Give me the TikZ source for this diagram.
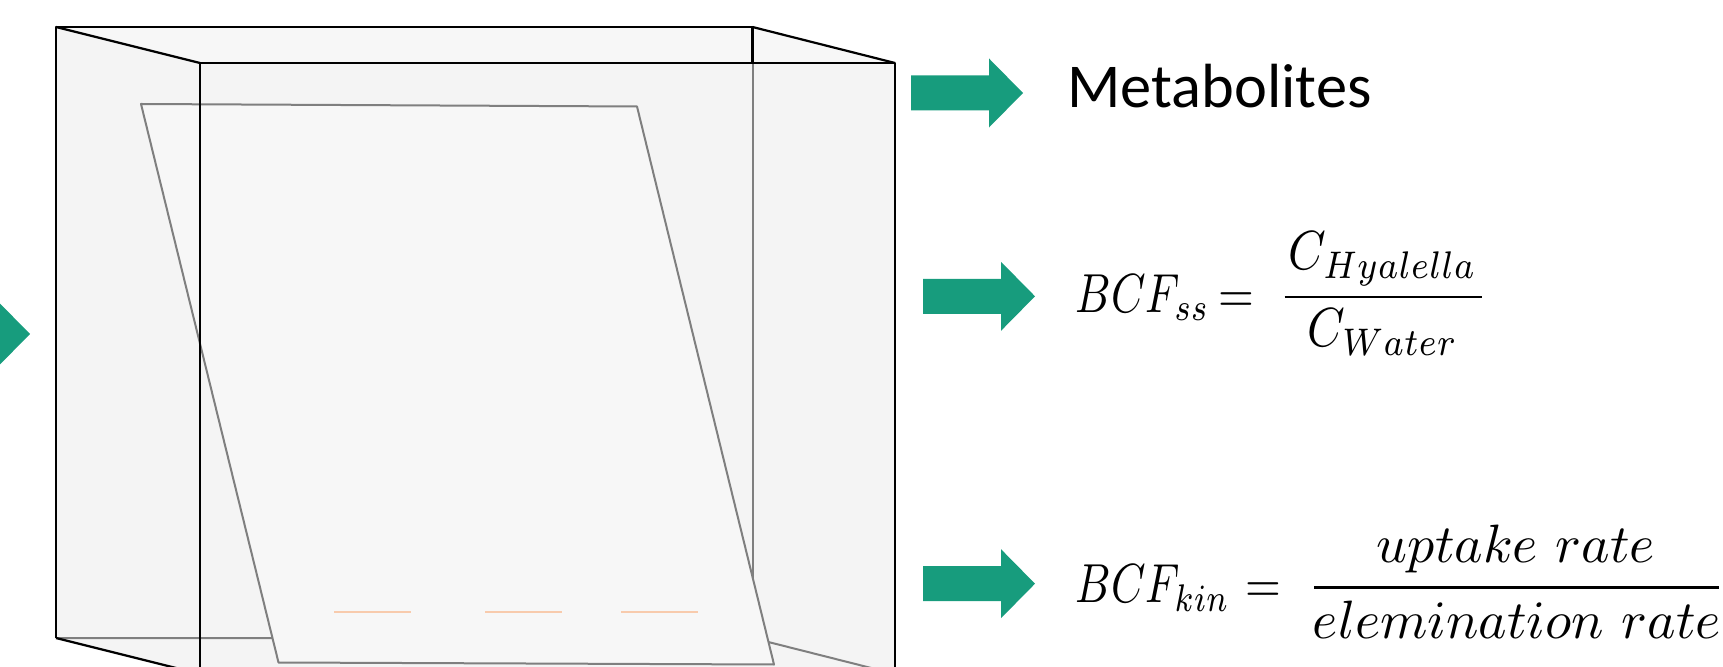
\documentclass[tikz,border=0pt]{standalone}
\usepackage{fontspec}
\newfontfamily\labelfont{Carlito}
\definecolor{arrowgreen}{RGB}{23,156,125}
\definecolor{boxfill}{RGB}{244,244,244}
\definecolor{topfill}{RGB}{247,247,247}
\definecolor{gelfill}{RGB}{247,247,247}
\definecolor{hiddenedge}{RGB}{127,127,127}
\definecolor{bandcolor}{RGB}{248,203,173}
\tikzset{
  edge/.style={draw=black, line width=1.1pt, line join=round},
  backedge/.style={draw=hiddenedge, line width=1pt},
  gelplate/.style={fill=gelfill, draw=hiddenedge, line width=1pt, line join=round},
  band/.style={draw=bandcolor, line width=1.4pt},
  formula/.style={inner sep=0pt, anchor=base},
  fracbar/.style={draw=black, line width=1.3pt},
  blockarrow/.pic={\fill[arrowgreen] (-112,-17.5) -- (-34,-17.5) -- (-34,-34.5) -- (0,0)
                   -- (-34,34.5) -- (-34,17.5) -- (-112,17.5) -- cycle;}
}
\begin{document}
\begin{tikzpicture}[x=0.5pt, y=-0.5pt]
\useasboundingbox (0,0) rectangle (1723,667);
\clip (0,0) rectangle (1723,667);

% corners of the glass tank
\coordinate (bTL) at (56,27);
\coordinate (bTR) at (752.5,27);
\coordinate (bBL) at (56,638);
\coordinate (bBR) at (752.5,638);
\coordinate (fTL) at (200,63);
\coordinate (fTR) at (895,63);
\coordinate (fBL) at (200,674);
\coordinate (fBR) at (895,674);
\coordinate (bRm) at (752.5,63);

% tank body and its lighter top face
\fill[boxfill] (bTL) -- (bTR) -- (fTR) -- (fBR) -- (fBL) -- (bBL) -- cycle;
\fill[topfill] (bTL) -- (bTR) -- (fTR) -- (fTL) -- cycle;

% edges seen through the glass
\draw[backedge] (bRm) -- (bBR);
\draw[backedge] (bBL) -- (bBR) -- (fBR);

% tilted TLC plate with the sample bands
\draw[gelplate] (141,104) -- (637,106.5) -- (774,664.5) -- (278.5,662.5) -- cycle;
\draw[band] (334,612) -- (411,612);
\draw[band] (485,612) -- (562,612);
\draw[band] (621,612) -- (698,612);

% outer edges of the tank
\draw[edge] (bBL) -- (bTL) -- (bTR) -- (bRm);
\draw[edge] (bTL) -- (fTL);
\draw[edge] (bTR) -- (fTR);
\draw[edge] (bBL) -- (fBL);
\draw[edge] (fTL) -- (fTR) -- (fBR) -- (fBL) -- cycle;

% block arrows
\pic at (30,334) {blockarrow};
\pic at (1023,93) {blockarrow};
\pic at (1035,296.3) {blockarrow};
\pic at (1035,583.7) {blockarrow};

% results
\node[inner sep=0pt, anchor=base west, font=\labelfont\fontsize{31.2}{36}\selectfont]
  (metab) at (1067,108) {Metabolites};

% steady-state factor
\node[formula, anchor=base west, xscale=2.2, yscale=2.75] (ssl) at (1075,312.5) {$BCF_{ss}$};
\node[formula, xscale=2.3, yscale=2.7] (sseq) at (1236,312.5) {$=$};
\node[formula, xscale=2.4, yscale=2.75] (ssnum) at (1383,270) {$C_{Hyalella}$};
\node[formula, xscale=2.4, yscale=2.75] (ssden) at (1383,347) {$C_{Water}$};
\coordinate (ssbarL) at (1284.5,297);
\coordinate (ssbarR) at (1481.5,297);
\draw[fracbar] (ssbarL) -- (ssbarR);

% kinetic factor
\node[formula, anchor=base west, xscale=2.2, yscale=2.75] (kinl) at (1075,603) {$BCF_{kin}$};
\node[formula, xscale=2.3, yscale=2.7] (kineq) at (1263,603) {$=$};
\node[formula, scale=2.7] (kinnum) at (1516,562.5) {$uptake\ rate$};
\node[formula, scale=2.7] (kinden) at (1517,638) {$elemination\ rate$};
\coordinate (kinbarL) at (1314,587.7);
\coordinate (kinbarR) at (1718.5,587.7);
\draw[fracbar] (kinbarL) -- (kinbarR);
\end{tikzpicture}
\end{document}
